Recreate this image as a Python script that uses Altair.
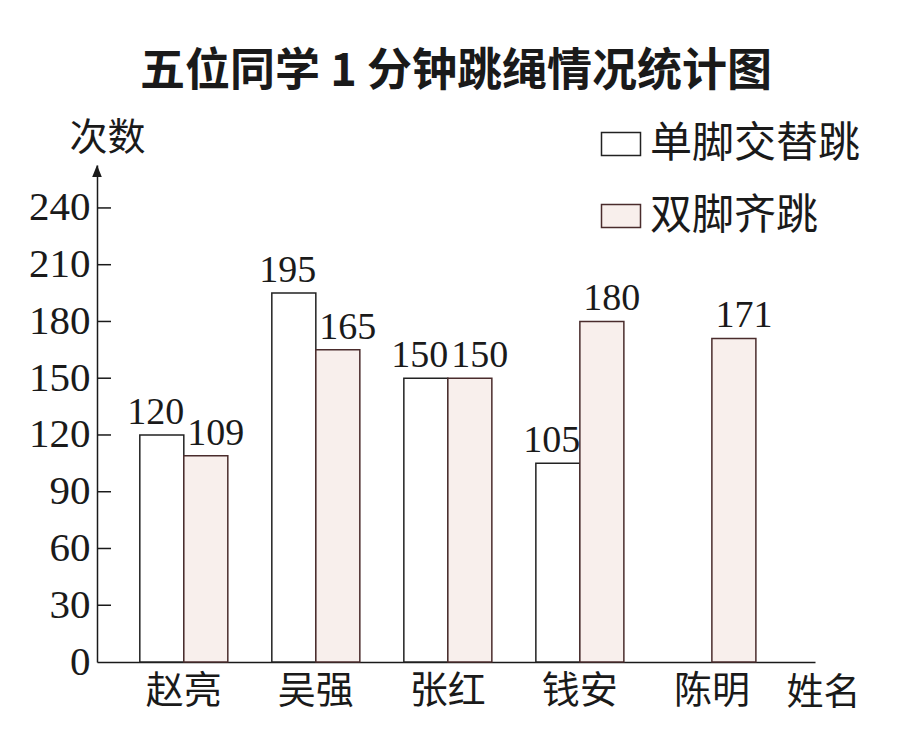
import altair as alt
import pandas as pd

names = ["赵亮", "吴强", "张红", "钱安", "陈明"]
series = ["单脚交替跳", "双脚齐跳"]
single_foot = [120, 195, 150, 105, None]
double_foot = [109, 165, 150, 180, 171]
y_ticks = [0, 30, 60, 90, 120, 150, 180, 210, 240]
y_top = 262.7

rows = []
for n, a, b in zip(names, single_foot, double_foot):
    rows.append({"name": n, "series": series[0], "value": a})
    rows.append({"name": n, "series": series[1], "value": b})
df = pd.DataFrame(rows)
bars_df = df.dropna()

W, H = 718, 497
SERIF = "Liberation Serif"
CJK = "Noto Sans CJK SC"
INK = "#1a1a1a"

x_enc = alt.X(
    "name:N",
    scale=alt.Scale(domain=names, paddingInner=1 / 3, paddingOuter=0.386, align=0.42),
    axis=alt.Axis(
        ticks=False, labelFont=CJK, labelFontSize=38, labelPadding=10, labelColor=INK,
        labelAngle=0, domainColor=INK, domainWidth=1.5, grid=False,
        title="姓名", titleX=726, titleY=31, titleFont=CJK, titleFontSize=37,
        titleFontWeight="normal", titleBaseline="middle", titleAlign="center", titleColor=INK,
    ),
)
xoff_enc = alt.XOffset("series:N", scale=alt.Scale(domain=series, paddingInner=0, paddingOuter=0))
y_enc = alt.Y(
    "value:Q",
    scale=alt.Scale(domain=[0, y_top], nice=False, zero=True),
    axis=alt.Axis(
        values=y_ticks, tickSize=0, labelFont=SERIF, labelFontSize=41, labelColor=INK,
        labelPadding=7, domainColor=INK, domainWidth=1.5, grid=False,
        title="次数", titleAngle=0, titleX=10, titleY=-27, titleFont=CJK, titleFontSize=38,
        titleFontWeight="normal", titleBaseline="middle", titleAlign="center", titleColor=INK,
    ),
)

bars = alt.Chart(bars_df).mark_bar(strokeWidth=1.5, opacity=1).encode(
    x=x_enc,
    xOffset=xoff_enc,
    y=y_enc,
    fill=alt.Fill(
        "series:N",
        scale=alt.Scale(domain=series, range=["#ffffff", "#f8efec"]),
        legend=alt.Legend(
            title=None, orient="none", legendX=503, legendY=-42,
            symbolType="M-1,-0.59H1V0.59H-1Z", symbolSize=1521,
            symbolStrokeColor=INK, symbolStrokeWidth=1.5, symbolOpacity=1,
            labelFont=CJK, labelFontSize=42, labelColor=INK, labelOffset=8,
            labelLimit=0, rowPadding=30, padding=0, direction="vertical",
        ),
    ),
    stroke=alt.Stroke(
        "series:N",
        scale=alt.Scale(domain=series, range=["#222222", "#4a2c2c"]),
        legend=None,
    ),
)


def value_labels(s, dx):
    return alt.Chart(bars_df).transform_filter(
        alt.datum.series == s
    ).mark_text(
        font=SERIF, fontSize=38, baseline="alphabetic", dy=-11, dx=dx, color=INK
    ).encode(
        x=x_enc,
        xOffset=xoff_enc,
        y=y_enc,
        text=alt.Text("value:Q", format="d"),
    )


labels_a = value_labels(series[0], -6)
labels_b = value_labels(series[1], 10)

ticks = alt.Chart(pd.DataFrame({"value": y_ticks[1:]})).mark_rule(
    color=INK, strokeWidth=1.5
).encode(y=y_enc, x=alt.value(0), x2=alt.value(14))

arrow = alt.Chart(pd.DataFrame({"value": [y_top]})).mark_point(
    shape="M0,-1L0.8,1L-0.8,1Z", size=144, filled=True, color=INK, opacity=1
).encode(x=alt.value(0), y=alt.value(6))

chart = alt.layer(bars, labels_a, labels_b, ticks, arrow).properties(
    width=W,
    height=H,
    title=alt.TitleParams(
        "五位同学 1 分钟跳绳情况统计图", font=CJK, fontSize=45, fontWeight="bold",
        anchor="middle", offset=24, color=INK,
    ),
    autosize=alt.AutoSizeParams(type="none"),
    padding={"left": 89, "top": 157, "right": 98, "bottom": 60},
    background="white",
).configure_view(stroke=None)

chart.save("out.html", embed_options={"renderer": "svg", "actions": False})
